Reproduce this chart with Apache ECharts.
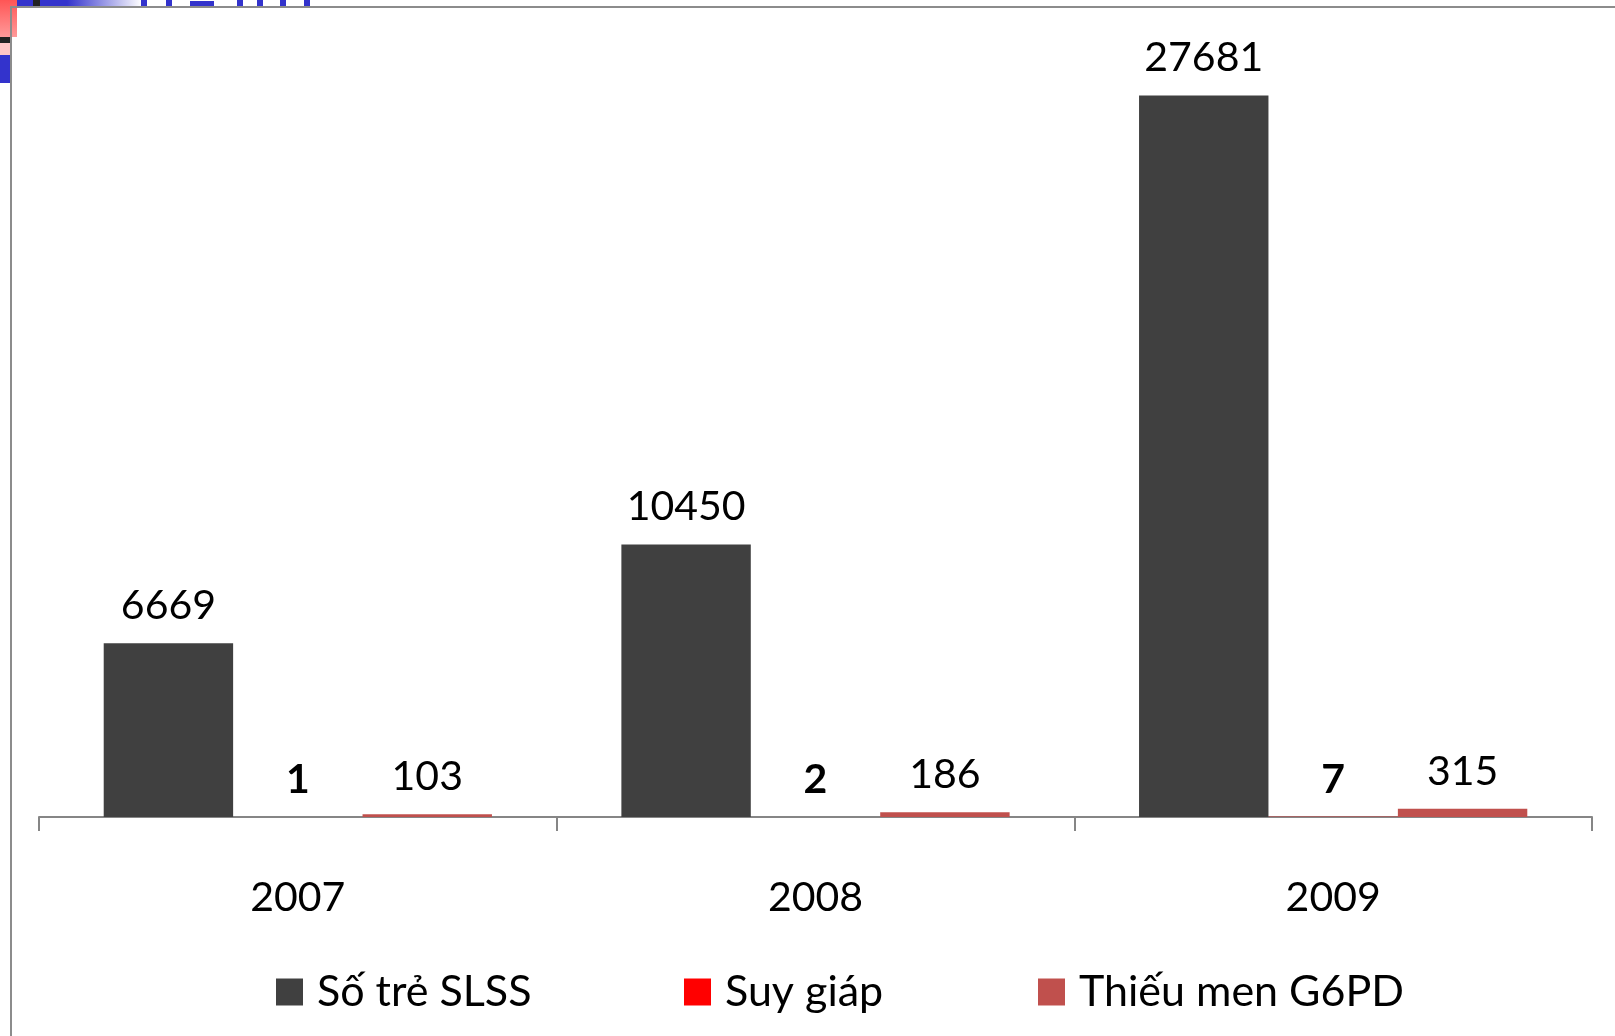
<!DOCTYPE html>
<html>
<head>
<meta charset="utf-8">
<script src="https://cdn.jsdelivr.net/npm/echarts@6/dist/echarts.min.js"></script>
<style>
  html, body { margin: 0; padding: 0; background: #ffffff; }
  #chart { width: 1615px; height: 1036px; }
</style>
</head>
<body>
<div id="chart"></div>
<script>
// Năm
const years = ['2007', '2008', '2009'];
// Số trẻ sàng lọc sơ sinh
const soTreSLSS = [6669, 10450, 27681];
// Số ca suy giáp
const suyGiap = [1, 2, 7];
// Số ca thiếu men G6PD
const thieuMenG6PD = [103, 186, 315];

const seriesNames = ['Số trẻ SLSS', 'Suy giáp', 'Thiếu men G6PD'];
const seriesColors = ['#404040', '#ff0000', '#c0504d'];
const fontFamily = 'Lato, "Open Sans", "Noto Sans", sans-serif';

const chart = echarts.init(document.getElementById('chart'), null, { renderer: 'canvas' });

function labelStyle(bold) {
  return {
    show: true,
    position: 'top',
    distance: 17,
    color: '#000000',
    fontFamily: fontFamily,
    fontSize: 41,
    fontWeight: bold ? 'bold' : 'normal'
  };
}

const legendLefts = [271, 679, 1033];

chart.setOption({
  animation: false,
  backgroundColor: '#ffffff',
  grid: { left: 39, right: 23, top: 35, bottom: 219, containLabel: false },
  legend: seriesNames.map((name, i) => ({
    data: [name],
    left: legendLefts[i],
    top: 964,
    itemWidth: 27,
    itemHeight: 27,
    itemGap: 10,
    icon: 'rect',
    textStyle: {
      fontFamily: fontFamily, fontSize: 43, color: '#000000',
      lineHeight: 46, padding: [0, 0, 0, 9]
    },
    selectedMode: false
  })),
  xAxis: {
    type: 'category',
    data: years,
    axisLine: { show: true, lineStyle: { color: '#868686', width: 2 } },
    axisTick: { show: true, length: 14, lineStyle: { color: '#868686', width: 2 } },
    axisLabel: { margin: 60, color: '#000000', fontFamily: fontFamily, fontSize: 41 },
    splitLine: { show: false }
  },
  yAxis: {
    type: 'value',
    min: 0,
    max: 30000,
    interval: 5000,
    show: false,
    splitLine: { show: false }
  },
  series: [
    {
      name: seriesNames[0], type: 'bar', data: soTreSLSS,
      itemStyle: { color: seriesColors[0] },
      barGap: '0%', barCategoryGap: '25%',
      label: labelStyle(false)
    },
    {
      name: seriesNames[1], type: 'bar', data: suyGiap,
      itemStyle: { color: seriesColors[1] },
      barGap: '0%', barCategoryGap: '25%',
      label: labelStyle(true)
    },
    {
      name: seriesNames[2], type: 'bar', data: thieuMenG6PD,
      itemStyle: { color: seriesColors[2] },
      barGap: '0%', barCategoryGap: '25%',
      label: labelStyle(false)
    }
  ],
  graphic: [
    // slide pieces peeking out behind the chart frame
    { type: 'rect', shape: { x: 0, y: 0, width: 17, height: 37 },
      style: { fill: new echarts.graphic.LinearGradient(0, 0, 0, 1, [
        { offset: 0, color: '#ff5555' }, { offset: 1, color: '#ff9a9a' }]) } },
    { type: 'rect', shape: { x: 0, y: 37, width: 10, height: 6 }, style: { fill: '#222222' } },
    { type: 'rect', shape: { x: 0, y: 43, width: 10, height: 12 }, style: { fill: '#ffc6c6' } },
    { type: 'rect', shape: { x: 0, y: 55, width: 10, height: 28 }, style: { fill: '#3333cc' } },
    { type: 'rect', shape: { x: 17, y: 0, width: 125, height: 7 },
      style: { fill: new echarts.graphic.LinearGradient(0, 0, 1, 0, [
        { offset: 0, color: '#3333cc' }, { offset: 0.4, color: '#3333cc' }, { offset: 1, color: '#ffffff' }]) } },
    { type: 'rect', shape: { x: 33, y: 0, width: 7, height: 7 }, style: { fill: '#222222' } },
    { type: 'rect', shape: { x: 141, y: 0, width: 6, height: 7 }, style: { fill: '#3333cc' } },
    { type: 'rect', shape: { x: 166, y: 0, width: 6, height: 7 }, style: { fill: '#3333cc' } },
    { type: 'rect', shape: { x: 190, y: 1, width: 24, height: 6 }, style: { fill: '#3333cc' } },
    { type: 'rect', shape: { x: 237, y: 0, width: 6, height: 7 }, style: { fill: '#3333cc' } },
    { type: 'rect', shape: { x: 257, y: 0, width: 6, height: 7 }, style: { fill: '#3333cc' } },
    { type: 'rect', shape: { x: 280, y: 0, width: 6, height: 7 }, style: { fill: '#3333cc' } },
    { type: 'rect', shape: { x: 304, y: 0, width: 6, height: 7 }, style: { fill: '#3333cc' } },
    // chart frame
    { type: 'rect', z: 10, shape: { x: 11, y: 7, width: 1620, height: 1040 },
      style: { fill: 'transparent', stroke: '#8c8c8c', lineWidth: 2 } }
  ]
});
</script>
</body>
</html>
